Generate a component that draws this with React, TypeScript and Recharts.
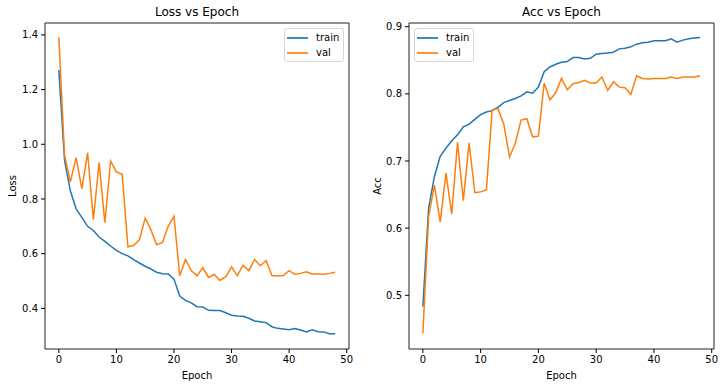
import { Legend, Line, LineChart, ReferenceArea, XAxis, YAxis } from "recharts";

const FONT = "'DejaVu Sans', sans-serif";
const BLUE = "#1f77b4";
const ORANGE = "#ff7f0e";

const epochs = [
  0, 1, 2, 3, 4, 5, 6, 7, 8, 9, 10, 11, 12, 13, 14, 15, 16, 17, 18, 19, 20, 21, 22, 23, 24,
  25, 26, 27, 28, 29, 30, 31, 32, 33, 34, 35, 36, 37, 38, 39, 40, 41, 42, 43, 44, 45, 46, 47, 48,
];

const trainLoss = [
  1.272, 0.941, 0.83, 0.764, 0.733, 0.7, 0.685, 0.661, 0.645, 0.628, 0.612, 0.6, 0.592, 0.578,
  0.566, 0.554, 0.544, 0.532, 0.527, 0.526, 0.507, 0.445, 0.429, 0.42, 0.406, 0.405, 0.393, 0.392,
  0.392, 0.384, 0.375, 0.372, 0.371, 0.364, 0.354, 0.351, 0.348, 0.333, 0.327, 0.325, 0.322, 0.326,
  0.321, 0.314, 0.322, 0.315, 0.314, 0.307, 0.307,
];

const valLoss = [
  1.391, 0.96, 0.862, 0.951, 0.838, 0.969, 0.724, 0.933, 0.713, 0.939, 0.899, 0.89, 0.625, 0.63,
  0.651, 0.73, 0.687, 0.633, 0.641, 0.7, 0.737, 0.519, 0.579, 0.538, 0.519, 0.549, 0.513, 0.524,
  0.502, 0.516, 0.552, 0.52, 0.558, 0.538, 0.579, 0.556, 0.575, 0.52, 0.518, 0.52, 0.538, 0.525,
  0.528, 0.534, 0.526, 0.526, 0.525, 0.528, 0.532,
];

const trainAcc = [
  0.483, 0.63, 0.677, 0.707, 0.719, 0.73, 0.739, 0.751, 0.755, 0.762, 0.769, 0.773, 0.775, 0.78,
  0.787, 0.79, 0.793, 0.797, 0.803, 0.801, 0.81, 0.833, 0.84, 0.844, 0.847, 0.848, 0.854, 0.854,
  0.852, 0.853, 0.859, 0.86, 0.861, 0.862, 0.867, 0.868, 0.87, 0.874, 0.876, 0.877, 0.879, 0.879,
  0.879, 0.882, 0.877, 0.88, 0.882, 0.883, 0.884,
];

const valAcc = [
  0.443, 0.617, 0.664, 0.609, 0.682, 0.621, 0.728, 0.641, 0.727, 0.653, 0.654, 0.657, 0.776, 0.778,
  0.755, 0.706, 0.726, 0.761, 0.763, 0.736, 0.737, 0.816, 0.791, 0.802, 0.823, 0.806, 0.815, 0.817,
  0.82, 0.816, 0.816, 0.825, 0.805, 0.818, 0.81, 0.809, 0.799, 0.827, 0.823, 0.822, 0.823, 0.823,
  0.823, 0.825, 0.823, 0.825, 0.825, 0.825, 0.827,
];

const epochTicks = [0, 10, 20, 30, 40, 50];
const lossTicks = [0.4, 0.6, 0.8, 1.0, 1.2, 1.4];
const accTicks = [0.5, 0.6, 0.7, 0.8, 0.9];

const X_DOMAIN: [number, number] = [-2.4, 50.4];
const LOSS_DOMAIN: [number, number] = [0.2515, 1.4435];
const ACC_DOMAIN: [number, number] = [0.42, 0.9055];

function buildRows(train: number[], val: number[]) {
  return epochs.map((epoch, i) => ({ epoch, train: train[i], val: val[i] }));
}

function MplLegend({ payload }: any) {
  return (
    <div
      style={{
        boxSizing: "border-box",
        width: 60,
        border: "1px solid #d6d6d6",
        borderRadius: 3,
        background: "rgba(255,255,255,0.8)",
        padding: "1px 0 1px 2px",
        fontFamily: FONT,
        fontSize: 10,
        color: "#000",
      }}
    >
      {(payload ?? []).map((item: any) => (
        <div key={item.value} style={{ display: "flex", alignItems: "center", height: 15 }}>
          <span
            style={{
              width: 21,
              height: 0,
              borderTop: `2px solid ${item.color}`,
              opacity: 0.85,
              marginRight: 8,
            }}
          />
          {item.value}
        </div>
      ))}
    </div>
  );
}

interface PanelProps {
  left: number;
  title: string;
  yLabel: string;
  rows: { epoch: number; train: number; val: number }[];
  yDomain: [number, number];
  yTicks: number[];
  yAxisWidth: number;
  legendLeft: number;
}

function Panel({ left, title, yLabel, rows, yDomain, yTicks, yAxisWidth, legendLeft }: PanelProps) {
  const width = 360;
  const plotLeft = yAxisWidth;
  const plotWidth = width - yAxisWidth - 11;

  return (
    <div style={{ position: "absolute", left, top: 0, width, height: 387 }}>
      <div
        style={{
          position: "absolute",
          left: plotLeft,
          width: plotWidth,
          top: 5,
          textAlign: "center",
          fontFamily: FONT,
          fontSize: 12,
          color: "#000",
        }}
      >
        {title}
      </div>
      <LineChart
        width={width}
        height={387}
        data={rows}
        margin={{ top: 23, right: 11, bottom: 0, left: 0 }}
      >
        <XAxis
          dataKey="epoch"
          type="number"
          domain={X_DOMAIN}
          ticks={epochTicks}
          allowDataOverflow
          height={38}
          axisLine={false}
          tickSize={4}
          tickMargin={3}
          tickLine={{ stroke: "#000" }}
          tick={{ fill: "#000", fontSize: 10, fontFamily: FONT }}
          label={{
            value: "Epoch",
            position: "insideBottom",
            offset: 8,
            fill: "#000",
            fontSize: 10,
            fontFamily: FONT,
          }}
        />
        <YAxis
          type="number"
          domain={yDomain}
          ticks={yTicks}
          allowDataOverflow
          width={yAxisWidth}
          axisLine={false}
          tickSize={4}
          tickMargin={3}
          tickLine={{ stroke: "#000" }}
          tick={{ fill: "#000", fontSize: 10, fontFamily: FONT }}
          tickFormatter={(v: number) => v.toFixed(1)}
          label={{
            value: yLabel,
            angle: -90,
            position: "insideLeft",
            offset: 12,
            fill: "#000",
            fontSize: 10,
            fontFamily: FONT,
            style: { textAnchor: "middle" },
          }}
        />
        <Line
          dataKey="train"
          name="train"
          stroke={BLUE}
          strokeWidth={1.5}
          dot={false}
          isAnimationActive={false}
        />
        <Line
          dataKey="val"
          name="val"
          stroke={ORANGE}
          strokeWidth={1.5}
          dot={false}
          isAnimationActive={false}
        />
        <ReferenceArea
          x1={X_DOMAIN[0]}
          x2={X_DOMAIN[1]}
          y1={yDomain[0]}
          y2={yDomain[1]}
          fill="none"
          fillOpacity={0}
          stroke="#222"
          strokeWidth={1}
        />
        <Legend
          layout="vertical"
          align="center"
          verticalAlign="middle"
          content={<MplLegend />}
          wrapperStyle={{ left: legendLeft, top: 28, width: 60 }}
        />
      </LineChart>
    </div>
  );
}

export default function App() {
  return (
    <div
      style={{
        position: "absolute",
        left: 0,
        top: 0,
        width: 725,
        height: 387,
        background: "#fff",
        overflow: "hidden",
      }}
    >
      <Panel
        left={0}
        title="Loss vs Epoch"
        yLabel="Loss"
        rows={buildRows(trainLoss, valLoss)}
        yDomain={LOSS_DOMAIN}
        yTicks={lossTicks}
        yAxisWidth={45}
        legendLeft={284}
      />
      <Panel
        left={365}
        title="Acc vs Epoch"
        yLabel="Acc"
        rows={buildRows(trainAcc, valAcc)}
        yDomain={ACC_DOMAIN}
        yTicks={accTicks}
        yAxisWidth={44}
        legendLeft={49}
      />
    </div>
  );
}
